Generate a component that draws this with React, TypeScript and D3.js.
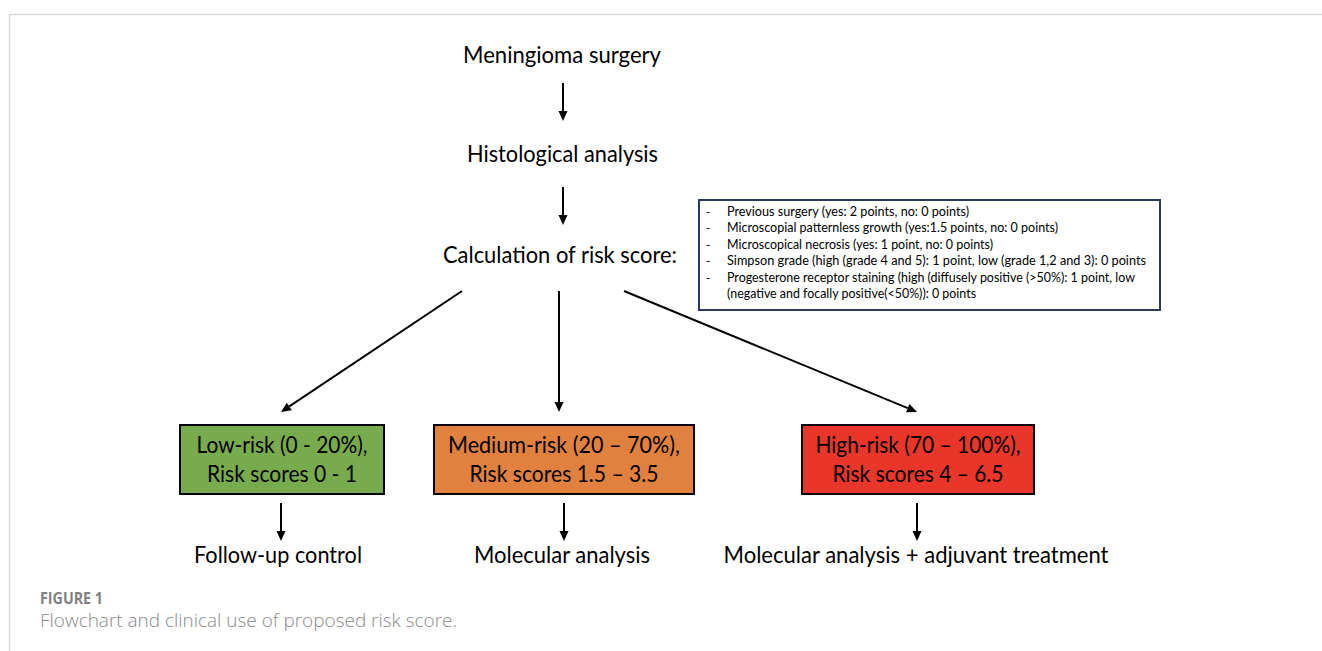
import React from 'react';
import * as d3 from 'd3';

// flow content
const steps = ['Meningioma surgery', 'Histological analysis', 'Calculation of risk score:'];
const criteria = [
  'Previous surgery (yes: 2 points, no: 0 points)',
  'Microscopial patternless growth (yes:1.5 points, no: 0 points)',
  'Microscopical necrosis (yes: 1 point, no: 0 points)',
  'Simpson grade (high (grade 4 and 5): 1 point, low (grade 1,2 and 3): 0 points',
  'Progesterone receptor staining (high (diffusely positive (>50%): 1 point, low',
  '(negative and focally positive(<50%)): 0 points',
];
const criteriaBullet = [true, true, true, true, true, false];
const riskLabels = ['Low-risk (0 - 20%),', 'Medium-risk (20 \u2013 70%),', 'High-risk (70 \u2013 100%),'];
const riskScores = ['Risk scores 0 - 1', 'Risk scores 1.5 \u2013 3.5', 'Risk scores 4 \u2013 6.5'];
const outcomes = ['Follow-up control', 'Molecular analysis', 'Molecular analysis + adjuvant treatment'];
const captionTitle = 'FIGURE 1';
const captionText = 'Flowchart and clinical use of proposed risk score.';

// layout
const W = 1322;
const H = 651;
const FONT = 'Lato, "Open Sans", sans-serif';
const riskFill = ['#78aa4e', '#e0813f', '#e8362a'];
const stepX = [562, 562.5, 560];
const stepY = [63, 162, 263];
const stepW = [198, 191, 234];
const boxes = [
  { x0: 180, x1: 384, w1: 171, w2: 150 },
  { x0: 434, x1: 694, w1: 232, w2: 189 },
  { x0: 802, x1: 1034, w1: 205, w2: 171 },
];
const boxY0 = 425;
const boxY1 = 494;
const branchStart = [462, 559, 624];
const branchEnd = [281, 559, 917];
const downArrowX = [281, 564, 917];
const outcomeX = [278, 562, 916];
const outcomeW = [168, 176, 385];
const critW = [242, 331, 266, 419, 408, 249];

const line = d3.line<[number, number]>();

const Arrow = ({ x1, y1, x2, y2 }: { x1: number; y1: number; x2: number; y2: number }) => {
  const ang = Math.atan2(y2 - y1, x2 - x1);
  const len = 10;
  const half = 4.5;
  const bx = x2 - len * Math.cos(ang);
  const by = y2 - len * Math.sin(ang);
  const px = -Math.sin(ang) * half;
  const py = Math.cos(ang) * half;
  return (
    <g>
      <path d={line([[x1, y1], [bx, by]]) || ''} stroke="#000" strokeWidth={2} fill="none" />
      <path
        d={(line([[x2, y2], [bx + px, by + py], [bx - px, by - py]]) || '') + 'Z'}
        fill="#000"
      />
    </g>
  );
};

export default function App() {
  const critY = d3.scaleLinear().domain([0, 1]).range([216, 232.4]);
  return (
    <svg
      width={W}
      height={H}
      style={{ position: 'absolute', left: 0, top: 0, background: '#fff' }}
      fontFamily={FONT}
    >
      {/* frame */}
      <path d="M9.5,651 V14.5 H1322" stroke="#d9d9d9" strokeWidth={1.5} fill="none" />

      {/* main steps */}
      {steps.map((s, i) => (
        <text key={s} x={stepX[i]} y={stepY[i]} textAnchor="middle" fontSize={22.5} fill="#000"
          textLength={stepW[i]} lengthAdjust="spacingAndGlyphs">
          {s}
        </text>
      ))}
      <Arrow x1={563} y1={83} x2={563} y2={121} />
      <Arrow x1={563} y1={187} x2={563} y2={225} />

      {/* criteria box */}
      <rect x={699} y={200} width={461} height={110} fill="#fff" stroke="#2c3a5a" strokeWidth={2} />
      {criteria.map((c, i) => (
        <g key={i}>
          {criteriaBullet[i] && (
            <text x={706} y={critY(i)} fontSize={12} fill="#000">-</text>
          )}
          <text x={727} y={critY(i)} fontSize={12.5} fill="#000"
            textLength={critW[i]} lengthAdjust="spacingAndGlyphs">
            {c}
          </text>
        </g>
      ))}

      {/* branches */}
      {branchStart.map((sx, i) => (
        <Arrow key={i} x1={sx} y1={291} x2={branchEnd[i]} y2={412} />
      ))}

      {/* risk boxes */}
      {boxes.map((b, i) => {
        const cx = (b.x0 + b.x1) / 2;
        return (
          <g key={i}>
            <rect x={b.x0} y={boxY0} width={b.x1 - b.x0} height={boxY1 - boxY0}
              fill={riskFill[i]} stroke="#000" strokeWidth={2} />
            <text x={cx} y={453} textAnchor="middle" fontSize={22.5} fill="#000"
              textLength={b.w1} lengthAdjust="spacingAndGlyphs">
              {riskLabels[i]}
            </text>
            <text x={cx} y={482} textAnchor="middle" fontSize={22.5} fill="#000"
              textLength={b.w2} lengthAdjust="spacingAndGlyphs">
              {riskScores[i]}
            </text>
          </g>
        );
      })}

      {/* outcomes */}
      {downArrowX.map((x, i) => (
        <Arrow key={i} x1={x} y1={503} x2={x} y2={541} />
      ))}
      {outcomes.map((o, i) => (
        <text key={o} x={outcomeX[i]} y={563} textAnchor="middle" fontSize={22.5} fill="#000"
          textLength={outcomeW[i]} lengthAdjust="spacingAndGlyphs">
          {o}
        </text>
      ))}

      {/* caption */}
      <text x={40} y={604} fontSize={15.5} fontWeight={700} fill="#7f7f7f"
        fontFamily='"Open Sans", sans-serif' textLength={63} lengthAdjust="spacingAndGlyphs">
        {captionTitle}
      </text>
      <text x={40} y={627} fontSize={18.5} fill="#8a8a8a" fontWeight={300}
        fontFamily='"Open Sans", sans-serif' textLength={417} lengthAdjust="spacingAndGlyphs">
        {captionText}
      </text>
    </svg>
  );
}
